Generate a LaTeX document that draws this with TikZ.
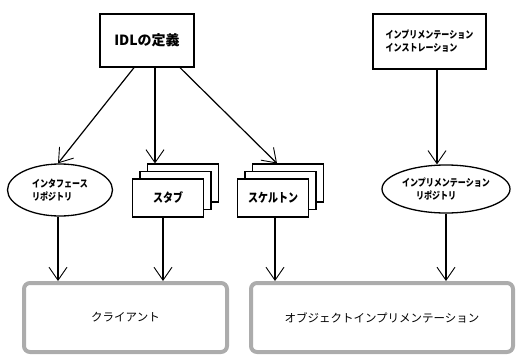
\documentclass[tikz,border=0pt]{standalone}
\usepackage{fontspec}
\newfontfamily\cjk{Noto Sans CJK JP}
\newfontfamily\cjknarrow[FakeStretch=0.8]{Noto Sans CJK JP}
\usetikzlibrary{arrows.meta,shapes.geometric,calc}
\begin{document}
\begin{tikzpicture}[x=1pt,y=-1pt,
  arr/.style={line width=1.2pt,-{Straight Barb[length=13pt,width=18pt,line width=0.9pt]}},
  plainbox/.style={draw,line width=1.3pt,fill=white,inner sep=0pt},
  cardbox/.style={draw,line width=1.1pt,fill=white,inner sep=0pt,minimum width=71pt,minimum height=38pt},
  ellnode/.style={draw,ellipse,line width=1.3pt,inner sep=0pt,align=left},
  bigbox/.style={draw=gray!65,line width=4pt,rounded corners=6pt,fill=white,inner sep=0pt,minimum height=69pt},
  smalltxt/.style={font=\cjknarrow\bfseries\fontsize{10}{13}\selectfont},
  midtxt/.style={font=\cjknarrow\bfseries\fontsize{12.5}{14}\selectfont},
  bigtxt/.style={font=\cjk\fontsize{11.5}{14}\selectfont}
]
\useasboundingbox (0,0) rectangle (516,356);

\node[plainbox,minimum width=94pt,minimum height=53pt,font=\cjk\bfseries\fontsize{14}{16}\selectfont] (idl) at (147,40.5) {IDLの定義};
\node[plainbox,minimum width=113pt,minimum height=55pt,smalltxt,align=left] (inst) at (429.5,41.5) {インプリメンテーション\\ インストレーション};

\node[ellnode,minimum width=105pt,minimum height=52pt,smalltxt] (ifr) at (60,190) {インタフェース\\リポジトリ};
\node[ellnode,minimum width=128pt,minimum height=48pt,smalltxt] (impr) at (446,189) {インプリメンテーション\\\hspace*{14pt}リポジトリ};

\node[cardbox] (stub3) at (183,183) {};
\node[cardbox] (stub2) at (175.5,190.5) {};
\node[cardbox,midtxt] (stub1) at (168,198) {スタブ};

\node[cardbox] (skel3) at (288,183) {};
\node[cardbox] (skel2) at (280.5,190.5) {};
\node[cardbox,midtxt] (skel1) at (273,198) {スケルトン};

\node[bigbox,minimum width=203pt,bigtxt] (client) at (125.5,317.5) {クライアント};
\node[bigbox,minimum width=262pt,bigtxt] (obj) at (382,317.5) {オブジェクトインプリメンテーション};

\draw[arr] ([xshift=-13pt]idl.south) -- ([xshift=-2pt]ifr.north);
\draw[arr] ([xshift=8pt]idl.south) -- ([xshift=8pt]idl.south |- stub3.north);
\draw[arr] ([xshift=33pt]idl.south) -- ([xshift=-11pt]skel3.north);
\draw[arr] ([xshift=7.5pt]inst.south) -- ([xshift=7.5pt]inst.south |- impr.north);

\draw[arr] ([xshift=-2pt]ifr.south) -- ([xshift=-2pt]ifr.south |- client.north);
\draw[arr] ([xshift=-5pt]stub1.south) -- ([xshift=-5pt]stub1.south |- client.north);
\draw[arr] ([xshift=2pt]skel1.south) -- ([xshift=2pt]skel1.south |- obj.north);
\draw[arr] (impr.south) -- (impr.south |- obj.north);
\end{tikzpicture}
\end{document}
